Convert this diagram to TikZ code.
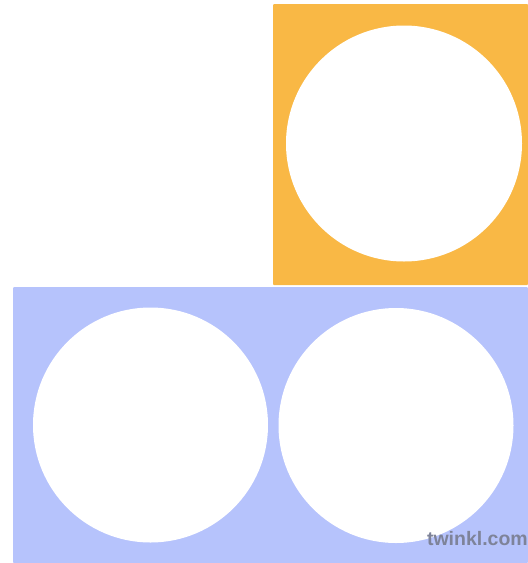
\documentclass[tikz,border=0pt]{standalone}
\usepackage{fontspec}
\newfontfamily\markfont{Liberation Sans}
\usepackage{tikz}
\definecolor{tileorange}{HTML}{F9B845}
\definecolor{tileblue}{HTML}{B6C3FC}
\definecolor{markgrey}{HTML}{7E8399}

\begin{document}
\begin{tikzpicture}[x=1pt, y=-1pt]
  % ============================================================
  % pixel grid of the reference: origin top left, y downwards
  % ============================================================
  \useasboundingbox (0,0) rectangle (528,563);
  \def\R{118}

  % 1. Top tile (one counter)
  \fill[tileorange, rounded corners=1pt] (273,4) rectangle (528,285);
  \fill[white] (404,143.5) circle (\R);

  % 2. Bottom tile (two counters)
  \fill[tileblue, rounded corners=1pt] (13,287) rectangle (528,563);
  \fill[white] (150.5,425) circle (117.5);
  \fill[white] (396,425.5) circle (117.5);

  % 3. Watermark
  \node[anchor=base east, inner sep=0pt, text=markgrey,
        font=\markfont\bfseries\fontsize{19.5}{19.5}\selectfont]
        (mark) at (528,545) {twinkl.com};
\end{tikzpicture}
\end{document}
